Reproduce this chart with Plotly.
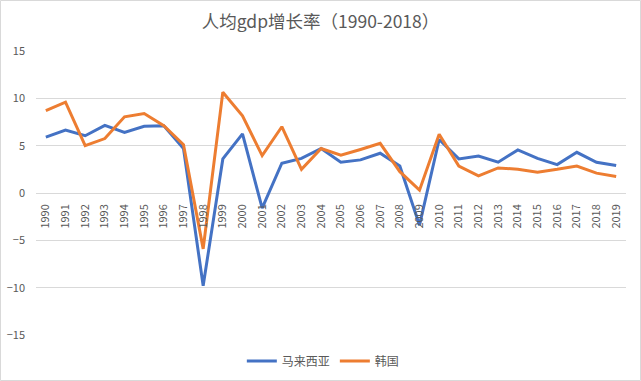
import plotly.graph_objects as go

years = [str(y) for y in range(1990, 2020)]
malaysia = [5.9, 6.65, 6.05, 7.15, 6.4, 7.05, 7.1, 4.7, -9.8, 3.6,
            6.25, -1.6, 3.15, 3.65, 4.7, 3.25, 3.5, 4.2, 2.85, -3.4,
            5.65, 3.6, 3.9, 3.25, 4.55, 3.65, 3.0, 4.3, 3.25, 2.9]
korea = [8.7, 9.6, 5.0, 5.75, 8.05, 8.4, 7.1, 5.1, -5.9, 10.65,
         8.15, 3.95, 7.0, 2.5, 4.7, 4.0, 4.6, 5.25, 2.25, 0.3,
         6.2, 2.85, 1.8, 2.65, 2.5, 2.2, 2.5, 2.85, 2.1, 1.75]
series_names = ["马来西亚", "韩国"]
y_ticks = [-15, -10, -5, 0, 5, 10, 15]

FONT = "Noto Sans CJK SC, Microsoft YaHei, sans-serif"
GRAY = "#595959"

fig = go.Figure()
fig.add_trace(go.Scatter(x=years, y=malaysia, mode="lines", name=series_names[0],
                         line=dict(color="#4472C4", width=3)))
fig.add_trace(go.Scatter(x=years, y=korea, mode="lines", name=series_names[1],
                         line=dict(color="#ED7D31", width=3)))

W, H = 641, 381
L, R, T, B = 36, 15, 51, 46
pw, ph = W - L - R, H - T - B

fig.update_layout(
    width=W, height=H,
    margin=dict(l=L, r=R, t=T, b=B, autoexpand=False),
    paper_bgcolor="white", plot_bgcolor="white",
    font=dict(family=FONT, color=GRAY, size=11),
    title=dict(text="人均gdp增长率（1990-2018）", x=0.5, xanchor="center",
               y=1 - 22 / H, yanchor="middle",
               font=dict(size=17.5, color=GRAY, family=FONT)),
    showlegend=True,
    legend=dict(orientation="h", x=0.487, xanchor="center",
                y=-(361 - (T + ph)) / ph,
                yanchor="middle", font=dict(size=12, color=GRAY),
                itemwidth=30, bgcolor="rgba(0,0,0,0)"),
    xaxis=dict(type="category", tickangle=-90, showgrid=False,
               range=[-0.5, len(years) - 0.5], automargin=False,
               anchor="free", position=0.5, showline=False, ticks="",
               tickfont=dict(size=11, color=GRAY), ticklabelstandoff=8),
    yaxis=dict(range=[-15, 15], tickvals=y_ticks, showgrid=True, automargin=False,
               gridcolor="#D9D9D9", gridwidth=1, zeroline=True,
               zerolinecolor="#D9D9D9", zerolinewidth=1, showline=False,
               ticks="", ticklabelstandoff=10,
               tickfont=dict(size=11, color=GRAY)),
    shapes=[dict(type="rect", xref="paper", yref="paper",
                 x0=(0.5 - L) / pw, x1=(W - 0.5 - L) / pw,
                 y0=-(H - 0.5 - T - ph) / ph, y1=(T - 0.5) / ph + 1,
                 line=dict(color="#D9D9D9", width=1), layer="below")],
)

fig.write_html("out.html", config={"displayModeBar": False},
               post_script="document.body.style.margin='0px';")
